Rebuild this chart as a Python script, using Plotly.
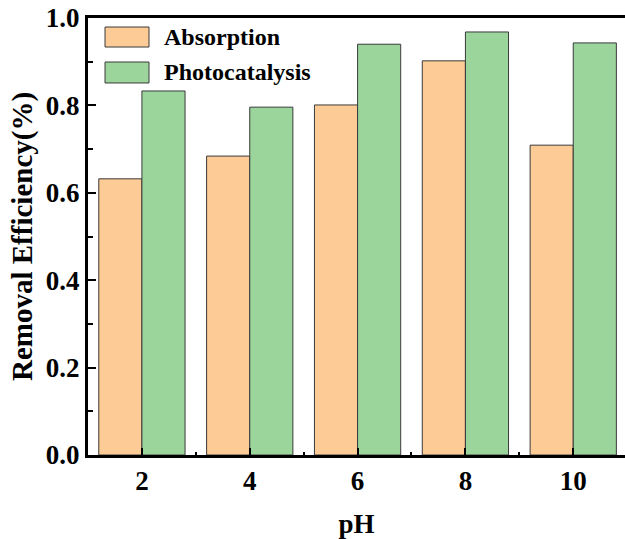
import plotly.graph_objects as go

# pH values and removal efficiency for each treatment
ph = [2, 4, 6, 8, 10]
absorption = [0.632, 0.684, 0.801, 0.902, 0.709]
photocatalysis = [0.833, 0.796, 0.940, 0.968, 0.943]
series_names = ["Absorption", "Photocatalysis"]
y_ticks = [0.0, 0.2, 0.4, 0.6, 0.8, 1.0]

orange = "#FDCB95"
green = "#9BD59B"
edge = "#3a3a3a"
serif = "Liberation Serif"

fig = go.Figure()
fig.add_trace(go.Bar(x=ph, y=absorption, name=series_names[0],
                     marker=dict(color=orange, line=dict(color=edge, width=1))))
fig.add_trace(go.Bar(x=ph, y=photocatalysis, name=series_names[1],
                     marker=dict(color=green, line=dict(color=edge, width=1))))

fig.update_layout(
    width=625, height=539,
    margin=dict(l=88, r=0, t=18, b=84),
    paper_bgcolor="white", plot_bgcolor="white",
    barmode="group", bargap=0.2, bargroupgap=0,
    showlegend=False,
    font=dict(family=serif, color="black"),
)

fig.update_xaxes(
    range=[1, 10.96], tickvals=ph, ticktext=[f"<b>{v}</b>" for v in ph],
    showgrid=False, zeroline=False,
    showline=True, linecolor="black", linewidth=3, mirror=True,
    ticks="inside", ticklen=7, tickwidth=2, tickcolor="black",
    minor=dict(dtick=1, tick0=1, ticks="inside", ticklen=3, tickwidth=2, tickcolor="black"),
    tickfont=dict(family=serif, size=27, color="black"),
    ticklabelstandoff=0,
    title=dict(text="<b>pH</b>", font=dict(family=serif, size=27, color="black"), standoff=20),
)

fig.update_yaxes(
    range=[0, 1.0], tickvals=y_ticks, ticktext=[f"<b>{v:.1f}</b>" for v in y_ticks],
    showgrid=False, zeroline=False,
    showline=True, linecolor="black", linewidth=3, mirror=False,
    ticks="inside", ticklen=8, tickwidth=2, tickcolor="black",
    minor=dict(dtick=0.1, ticks="inside", ticklen=5, tickwidth=2, tickcolor="black"),
    tickfont=dict(family=serif, size=27, color="black"),
    ticklabelstandoff=0,
    title=dict(text="<b>Removal Efficiency(%)</b>", font=dict(family=serif, size=29, color="black"), standoff=5),
)

# legend drawn as outlined swatches with labels in the upper-left corner
legend_rows = [(series_names[0], orange, 0.9336, 0.9794, 0.9565),
               (series_names[1], green, 0.8513, 0.8993, 0.8764)]
for label, color, y0, y1, yc in legend_rows:
    fig.add_shape(type="rect", xref="paper", yref="paper",
                  x0=0.0317, x1=0.1136, y0=y0, y1=y1,
                  fillcolor=color, line=dict(color=edge, width=1))
    fig.add_annotation(xref="paper", yref="paper", x=0.1378, y=yc,
                       xanchor="left", yanchor="middle", showarrow=False,
                       text=f"<b>{label}</b>",
                       font=dict(family=serif, size=24, color="black"))

fig.write_html("out.html")
